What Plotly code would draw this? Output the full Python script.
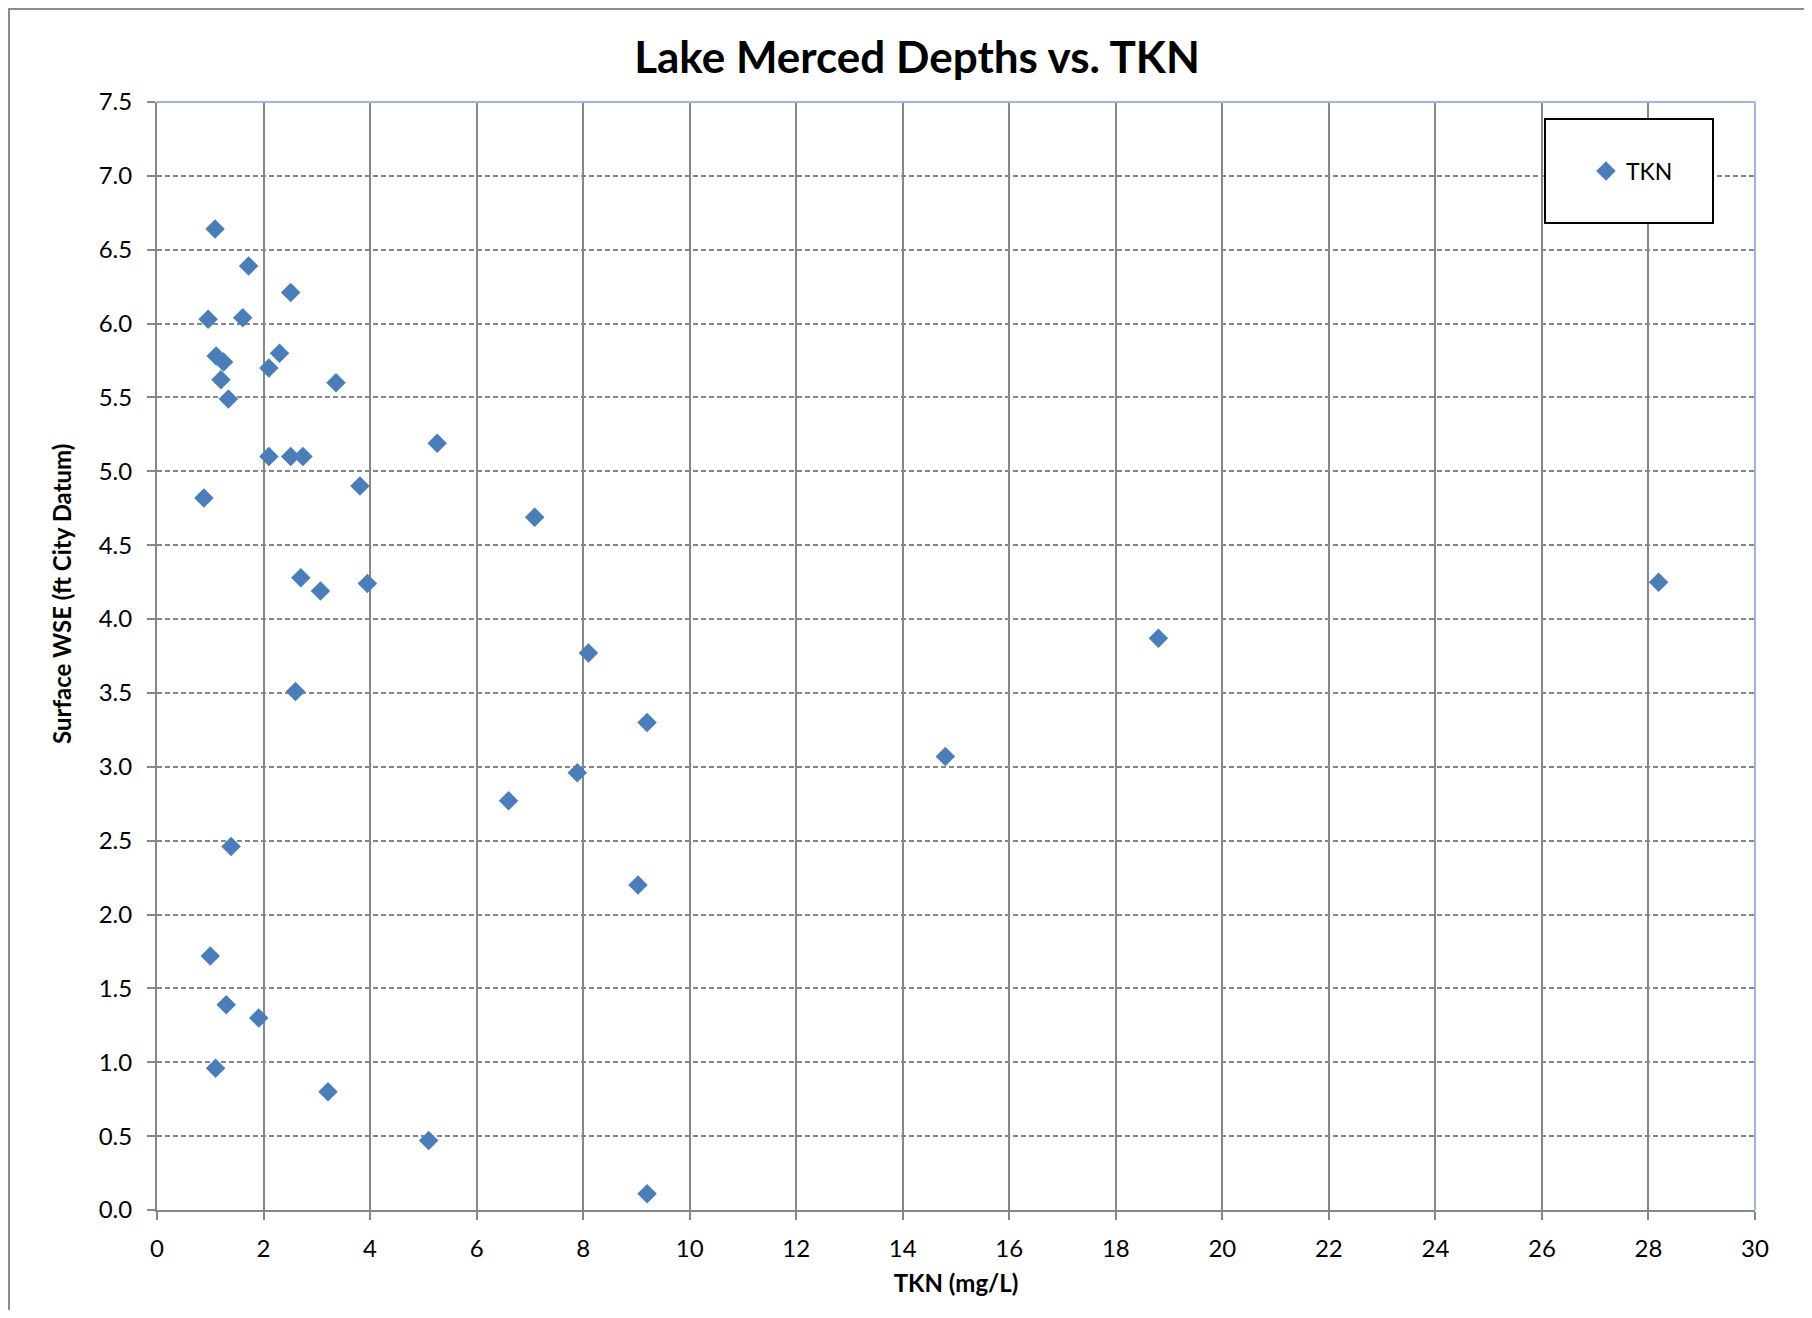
import plotly.graph_objects as go

# Data
tkn = [1.09, 1.72, 2.51, 0.96, 1.61, 1.11, 1.25, 1.20, 1.34, 2.30, 2.10, 3.36,
       2.10, 2.51, 2.74, 5.26, 0.88, 3.81, 7.09, 2.70, 3.07, 3.95, 28.19, 18.80,
       8.10, 2.60, 9.20, 14.80, 7.89, 6.60, 1.39, 9.03, 1.00, 1.30, 1.91, 1.10,
       3.21, 5.10, 9.20]
wse = [6.64, 6.39, 6.21, 6.03, 6.04, 5.78, 5.74, 5.62, 5.49, 5.80, 5.70, 5.60,
       5.10, 5.10, 5.10, 5.19, 4.82, 4.90, 4.69, 4.28, 4.19, 4.24, 4.25, 3.87,
       3.77, 3.51, 3.30, 3.07, 2.96, 2.77, 2.46, 2.20, 1.72, 1.39, 1.30, 0.96,
       0.80, 0.47, 0.11]

x_ticks = list(range(0, 31, 2))
y_ticks = [i * 0.5 for i in range(16)]

FONT = "Lato"
GRID = "#878787"
BLUE = "#4A7EBB"

OFF = 8  # page body margin
W, H = 1796, 1302
# plot area in page pixels: left 157, right 1755, top 102, bottom 1210
L = 157 - OFF
T = 102 - OFF
R = W - (1755 - OFF)
B = H - (1210 - OFF)
pw = W - L - R
ph = H - T - B

def px_x(px):
    # page px -> paper x
    return (px - OFF - L) / pw

def px_y(py):
    # page px -> paper y
    return (H - B - (py - OFF)) / ph

fig = go.Figure()
fig.add_trace(go.Scatter(
    x=tkn, y=wse, mode="markers", name="TKN",
    marker=dict(symbol="diamond", size=15, color=BLUE, line=dict(width=0)),
))

shapes = [
    # outer chart border
    dict(type="rect", xref="paper", yref="paper",
         x0=px_x(9), x1=px_x(1850), y0=px_y(1360), y1=px_y(9),
         line=dict(color="#8C8C8C", width=2), layer="below"),
    # plot area top and right border (light blue)
    dict(type="line", xref="paper", yref="paper", x0=0, x1=1, y0=1, y1=1,
         line=dict(color="#9DB6DD", width=2), layer="above"),
    dict(type="line", xref="paper", yref="paper", x0=1, x1=1, y0=0, y1=1,
         line=dict(color="#9DB6DD", width=2), layer="above"),
    # legend box
    dict(type="rect", xref="paper", yref="paper",
         x0=px_x(1545), x1=px_x(1713), y0=px_y(223), y1=px_y(119),
         line=dict(color="black", width=2), fillcolor="white", layer="above"),
]

fig.update_layout(
    width=W, height=H,
    margin=dict(l=L, r=R, t=T, b=B, autoexpand=False),
    paper_bgcolor="white", plot_bgcolor="white",
    font=dict(family=FONT, color="black"),
    title=dict(text="<b>Lake Merced Depths vs. TKN</b>",
               font=dict(family=FONT, size=44, color="black"),
               x=(917 - OFF) / W, xanchor="center",
               y=1 - (58 - OFF) / H, yanchor="middle"),
    showlegend=True,
    legend=dict(x=px_x(1586), y=px_y(171),
                xanchor="left", yanchor="middle",
                bgcolor="rgba(0,0,0,0)", borderwidth=0,
                font=dict(family=FONT, size=23, color="black")),
    shapes=shapes,
    annotations=[dict(
        text="<b>Surface WSE (ft City Datum)</b>", textangle=-90,
        xref="paper", yref="paper", x=px_x(61), y=px_y(594),
        xanchor="center", yanchor="middle", showarrow=False,
        font=dict(family=FONT, size=24, color="black"))],
)

fig.update_xaxes(
    range=[0, 30], tickvals=x_ticks, ticktext=[str(v) for v in x_ticks],
    showgrid=True, gridcolor=GRID, gridwidth=1.5, griddash="solid",
    showline=True, linecolor=GRID, linewidth=2,
    ticks="outside", ticklen=8, tickcolor=GRID, tickwidth=1.5,
    ticklabelstandoff=8,
    tickfont=dict(family=FONT, size=24, color="black"),
    zeroline=False,
    title=dict(text="<b>TKN (mg/L)</b>", font=dict(family=FONT, size=24, color="black"),
               standoff=14),
)
fig.update_yaxes(
    range=[0, 7.5], tickvals=y_ticks, tickformat=".1f",
    showgrid=True, gridcolor=GRID, gridwidth=1.5, griddash="5px,3px",
    showline=True, linecolor=GRID, linewidth=2,
    ticks="outside", ticklen=8, tickcolor=GRID, tickwidth=1.5,
    ticklabelstandoff=10,
    tickfont=dict(family=FONT, size=24, color="black"),
    zeroline=False,
)

fig.write_html("out.html")
